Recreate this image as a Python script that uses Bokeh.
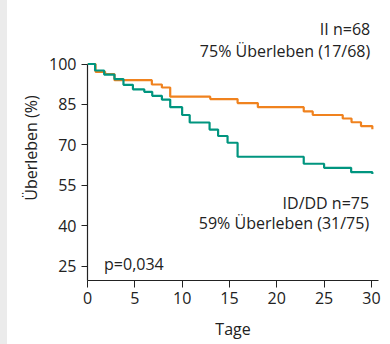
from bokeh.plotting import figure
from bokeh.models import Label, FixedTicker, Range1d, Spacer
from bokeh.layouts import row
from bokeh.embed import file_html
from bokeh.resources import INLINE

# Data
days_dd = [0, 0.8, 1.76, 2.85, 3.8, 4.8, 6.0, 6.84, 7.86, 8.74, 10.0, 10.8, 12.9, 13.8, 14.8, 15.86, 22.85, 25.0, 27.86, 30.1]
surv_dd = [100, 97.6, 96.1, 94.4, 92.3, 90.6, 89.7, 88.2, 86.8, 84.0, 81.1, 78.3, 75.7, 73.3, 70.8, 65.6, 63.0, 61.5, 59.9, 59.2]

days_ii = [0, 0.85, 1.86, 2.85, 6.8, 7.86, 8.74, 12.97, 15.86, 18.0, 22.85, 23.8, 26.97, 27.9, 28.9, 30.1]
surv_ii = [100, 97.1, 96.3, 94.0, 92.4, 91.3, 87.9, 87.0, 85.5, 84.0, 82.4, 81.1, 79.8, 78.4, 77.0, 75.8]

x_ticks = [0, 5, 10, 15, 20, 25, 30]
y_ticks = [25, 40, 55, 70, 85, 100]

label_ii = ["II n=68", "75% Überleben (17/68)"]
label_dd = ["ID/DD n=75", "59% Überleben (31/75)"]
p_text = "p=0,034"

FONT = "Open Sans"
FS = "16px"
TXT = "#222222"
ORANGE = "#f0821e"
TEAL = "#00957f"

p = figure(width=383, height=344, output_backend="svg", toolbar_location=None,
           x_range=Range1d(0, 30.75), y_range=Range1d(19.7, 118),
           min_border_left=80, min_border_right=12, min_border_top=15, min_border_bottom=64)
p.outline_line_color = None
p.grid.visible = False
p.background_fill_color = "white"
p.border_fill_color = "white"

p.step(days_ii, surv_ii, mode="after", line_color=ORANGE, line_width=2.2)
p.step(days_dd, surv_dd, mode="after", line_color=TEAL, line_width=2.2)

for ax in (p.xaxis[0], p.yaxis[0]):
    ax.major_label_text_font = FONT
    ax.major_label_text_font_size = FS
    ax.major_label_text_color = TXT
    ax.axis_label_text_font = FONT
    ax.axis_label_text_font_size = FS
    ax.axis_label_text_font_style = "normal"
    ax.axis_label_text_color = TXT
    ax.axis_line_color = "#222222"
    ax.major_tick_line_color = "#222222"
    ax.axis_line_width = 1.2
    ax.major_tick_in = 0
    ax.minor_tick_line_color = None

p.xaxis.ticker = FixedTicker(ticks=x_ticks)
p.yaxis.ticker = FixedTicker(ticks=y_ticks)
p.yaxis.bounds = (19.7, 100)
p.xaxis.major_tick_out = 7
p.yaxis.major_tick_out = 6
p.xaxis.major_label_standoff = 4
p.yaxis.major_label_standoff = 5
p.xaxis.axis_label = "Tage"
p.yaxis.axis_label = "Überleben (%)"
p.xaxis.axis_label_standoff = 11
p.yaxis.axis_label_standoff = 4

def add_label(x, y, text, align):
    p.add_layout(Label(x=x, y=y, text=text, text_align=align, text_baseline="alphabetic",
                       text_font=FONT, text_font_size=FS, text_color=TXT))

add_label(29.87, 113.1, label_ii[0], "right")
add_label(29.87, 104.9, label_ii[1], "right")
add_label(29.76, 48.6, label_dd[0], "right")
add_label(29.76, 41.2, label_dd[1], "right")
add_label(1.75, 25.75, p_text, "left")

strip = Spacer(width=7, height=344, styles={"background-color": "#ebebeb"})
layout = row(strip, p, spacing=0)

open("out.html", "w").write(file_html(layout, INLINE))
